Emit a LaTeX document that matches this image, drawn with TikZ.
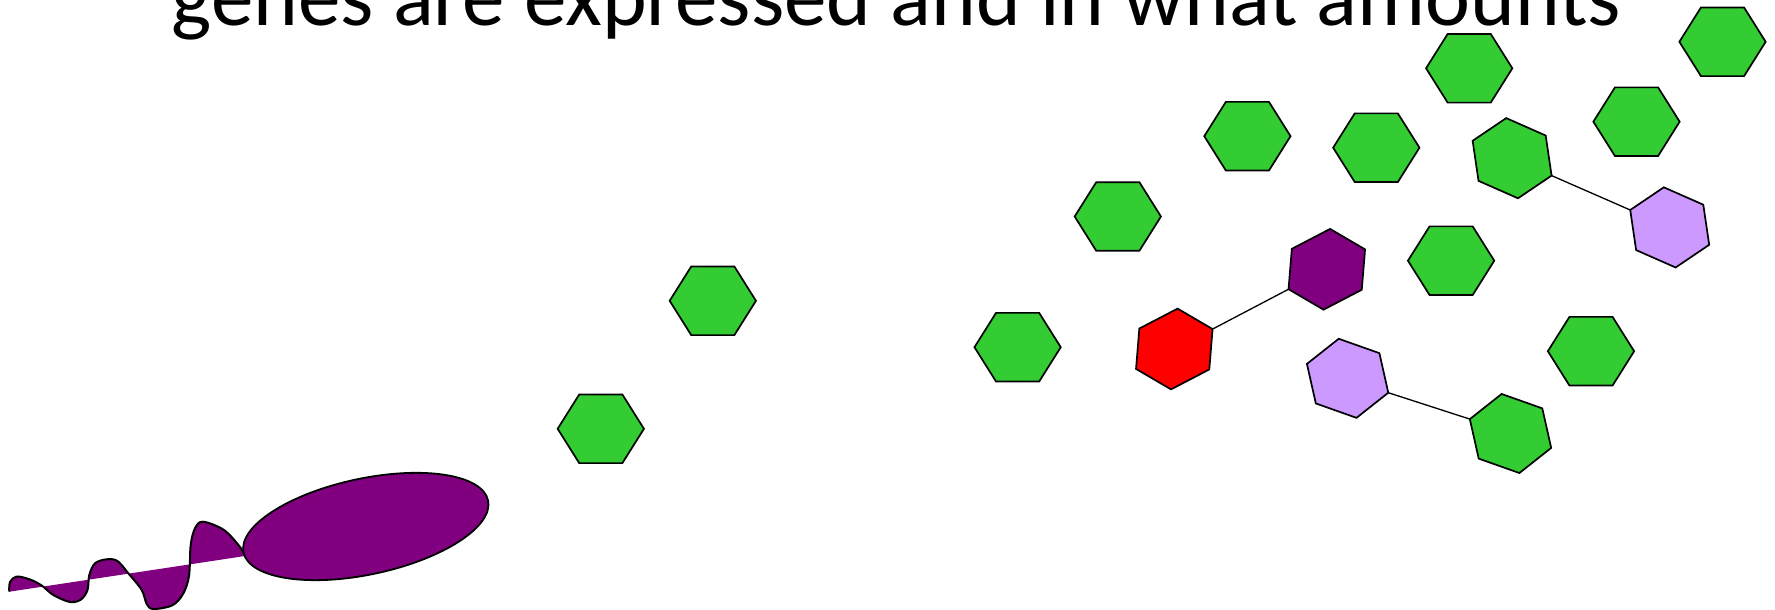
\documentclass[tikz,border=0pt]{standalone}
\usepackage{graphicx}
\usepackage{fontspec}
\setmainfont{Carlito}
\usetikzlibrary{shapes.geometric}

\definecolor{hexgreen}{RGB}{51,204,51}
\definecolor{hexlilac}{RGB}{204,153,255}
\definecolor{hexpurple}{RGB}{128,0,128}
\definecolor{hexred}{RGB}{255,0,0}

\begin{document}
\begin{tikzpicture}[x=1pt,y=1pt,
  hex/.style={regular polygon, regular polygon sides=6, minimum size=86.3pt,
              inner sep=0pt, outer sep=0pt, draw=black, line width=1.7pt,
              yscale=0.918},
  green/.style={hex, fill=hexgreen},
  lilac/.style={hex, fill=hexlilac},
  violet/.style={hex, fill=hexpurple},
  redhex/.style={hex, fill=hexred},
  link/.style={draw=black, line width=1.3pt},
  outline/.style={draw=black, line width=2pt, line join=round}]

\useasboundingbox (0,0) rectangle (1775,-610);
\clip (0,0) rectangle (1775,-610);

% heading, partly above the frame
\node[anchor=base west, inner sep=0pt] (title) at (171.7,-26)
  {\resizebox{1448pt}{!}{genes are expressed and in what amounts}};

% flagellum: filled between the wave and its axis, only the wave is stroked
\fill[hexpurple] plot[smooth, tension=0.55] coordinates {
  (9.3,-591.7) (10,-582) (16.7,-576.5) (30,-579.5) (41.7,-585.5) (53.3,-595)
  (70,-602) (81,-599.5) (87.5,-590) (89.3,-575) (95,-563.3) (106.7,-559.3)
  (117.5,-561) (128.3,-573.3) (141.7,-590) (146.7,-604) (153.3,-609)
  (172.3,-605.3) (183,-594) (189,-576) (190.7,-545) (195,-528.3) (203,-521.7)
  (224,-530) (240,-547) (245,-556)} -- cycle;
\draw[outline] plot[smooth, tension=0.55] coordinates {
  (9.3,-591.7) (10,-582) (16.7,-576.5) (30,-579.5) (41.7,-585.5) (53.3,-595)
  (70,-602) (81,-599.5) (87.5,-590) (89.3,-575) (95,-563.3) (106.7,-559.3)
  (117.5,-561) (128.3,-573.3) (141.7,-590) (146.7,-604) (153.3,-609)
  (172.3,-605.3) (183,-594) (189,-576) (190.7,-545) (195,-528.3) (203,-521.7)
  (224,-530) (240,-547) (245,-556)};

% cell body
\node[ellipse, draw=black, line width=1.8pt, fill=hexpurple, inner sep=0pt,
      minimum width=250pt, minimum height=96pt, rotate=12] (cell) at (365.8,-526.5) {};

% free hexagons
\node[green] (g1)  at (712.8,-300.8) {};
\node[green] (g2)  at (600.8,-428.8) {};
\node[green] (g3)  at (1017.6,-347.2) {};
\node[green] (g4)  at (1117.8,-216.5) {};
\node[green] (g5)  at (1247.4,-136.2) {};
\node[green] (g6)  at (1376.3,-147.7) {};
\node[green] (g7)  at (1469.2,-68.3) {};
\node[green] (g8)  at (1722.5,-41.8) {};
\node[green] (g9)  at (1636.5,-121.7) {};
\node[green] (g10) at (1451.1,-260.7) {};
\node[green] (g11) at (1591,-351.2) {};

% linked pairs
\node[rotate=27.5, redhex] (r1) at (1174.3,-349) {};
\node[rotate=27.5, violet] (p1) at (1326.8,-269.3) {};
\node[rotate=-23.8, green] (gl1) at (1512.1,-158.2) {};
\node[rotate=-23.8, lilac] (l1) at (1669.7,-227.4) {};
\node[rotate=-19.5, lilac] (l2) at (1347.6,-378.3) {};
\node[rotate=-19.5, green] (gl2) at (1510.5,-433.5) {};

\draw[link] (r1.0) -- (p1.180);
\draw[link] (gl1.0) -- (l1.180);
\draw[link] (l2.0) -- (gl2.180);

\end{tikzpicture}
\end{document}
